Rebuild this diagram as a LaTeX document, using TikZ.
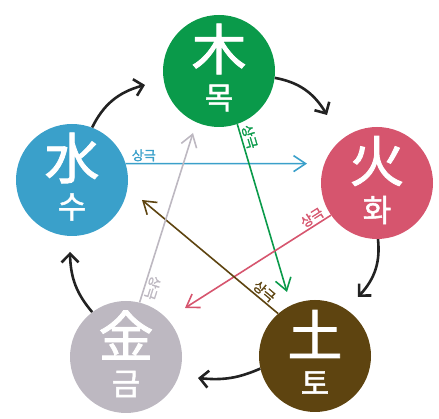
\documentclass[tikz,border=0pt]{standalone}
\usepackage{fontspec}
\setmainfont{Noto Sans CJK KR}
\newfontfamily\hanfont{Noto Sans CJK KR}[FakeBold=1.5]
\newfontfamily\labfont{Noto Sans CJK KR}[FakeBold=2]
\usetikzlibrary{arrows.meta,bending}
\definecolor{cmok}{RGB}{10,154,74}
\definecolor{chwa}{RGB}{214,85,110}
\definecolor{cto}{RGB}{94,68,16}
\definecolor{cgeum}{RGB}{189,184,193}
\definecolor{csu}{RGB}{58,160,202}
\definecolor{cblk}{RGB}{34,34,34}
\begin{document}
\begin{tikzpicture}[x=1pt,y=1pt,
  elem/.style={circle, minimum size=112pt, inner sep=0pt, fill=#1},
  han/.style={text=white, font=\hanfont\fontsize{55}{55}\selectfont, inner sep=0pt},
  kor/.style={text=white, font=\hanfont\fontsize{31}{31}\selectfont, inner sep=0pt},
  cyc/.style={draw=cblk, line width=2.6pt, -{Straight Barb[length=8.5pt,width=17pt]}},
  ke/.style={draw=#1, line width=1.6pt, -{Straight Barb[length=12pt,width=16pt]}},
  kelab/.style={text=#1, font=\labfont\fontsize{13}{13}\selectfont, inner sep=1.5pt}
]
\useasboundingbox (0,0) rectangle (439,419);
% circles
\node[elem=cmok] (mok) at (219,348) {};
\node[elem=chwa] (hwa) at (377,236) {};
\node[elem=cto] (to) at (315,63) {};
\node[elem=cgeum] (geum) at (126,62) {};
\node[elem=csu] (su) at (72,239) {};
% texts
\node[han] (mokH) at ([yshift=22pt]mok.center) {木};
\node[kor] (mokK) at ([yshift=-27pt]mok.center) {목};
\node[han] (hwaH) at ([yshift=22pt]hwa.center) {火};
\node[kor] (hwaK) at ([yshift=-27pt]hwa.center) {화};
\node[han] (toH) at ([yshift=22pt]to.center) {土};
\node[kor] (toK) at ([yshift=-27pt]to.center) {토};
\node[han] (geumH) at ([yshift=22pt]geum.center) {金};
\node[kor] (geumK) at ([yshift=-27pt]geum.center) {금};
\node[han] (suH) at ([yshift=22pt]su.center) {水};
\node[kor] (suK) at ([yshift=-27pt]su.center) {수};
% generating cycle
\coordinate (e1) at (327,304);
\coordinate (e2) at (358,122);
\coordinate (e3) at (198,41);
\coordinate (e4) at (70,167);
\coordinate (e5) at (145,334);
\draw[cyc] (mok.-7) to[bend left=25] (e1);
\draw[cyc] (hwa.-89) to[bend left=25] (e2);
\draw[cyc] (to.193) to[bend left=15] (e3);
\draw[cyc] (geum.127) to[bend left=20] (e4);
\draw[cyc] (su.69) to[bend left=25] (e5);
% controlling cycle
\coordinate (k1) at (307,255.4);
\coordinate (k2) at (287,127);
\coordinate (k3) at (185,111);
\coordinate (k4) at (142,219);
\coordinate (k5) at (193,286);
\draw[ke=csu] (su.17) -- (k1) node[kelab=csu, pos=0.1, above] (l1) {상극};
\draw[ke=cmok] (mok.-71) -- (k2) node[kelab=cmok, pos=0.09, sloped, above] (l2) {상극};
\draw[ke=chwa] (hwa.215) -- (k3) node[kelab=chwa, pos=0.1, sloped, above] (l3) {상극};
\draw[ke=cto] (to.131) -- (k4) node[kelab=cto, pos=0.14, sloped, above] (l4) {상극};
\draw[ke=cgeum] (geum.76) -- (k5) node[kelab=cgeum, pos=0.1, rotate=-107.6, anchor=south] (l5) {상극};
\end{tikzpicture}
\end{document}
